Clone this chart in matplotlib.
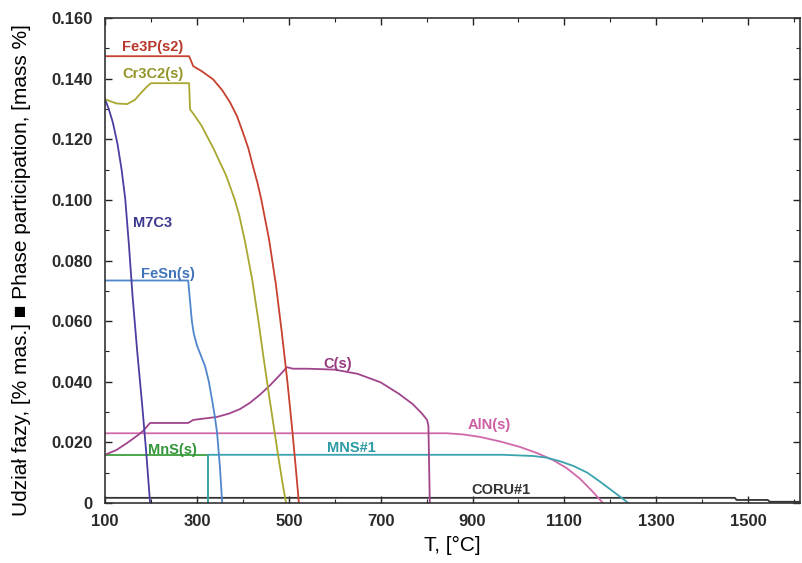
import matplotlib
matplotlib.use("Agg")
import matplotlib.pyplot as plt
from matplotlib.ticker import MultipleLocator, FuncFormatter

plt.rcParams['font.family'] = ['Liberation Sans', 'DejaVu Sans']

# phase fractions vs temperature, mass %
fe3p_t = [100, 283, 292, 310, 335, 355, 372, 387, 400, 412, 422, 432, 440, 457, 472, 485,
          497, 507, 515, 522]
fe3p_y = [0.1474, 0.1474, 0.1441, 0.1425, 0.1398, 0.1362, 0.1322, 0.1277, 0.1223, 0.1170,
          0.1111, 0.1055, 0.1002, 0.0870, 0.0720, 0.0560, 0.0400, 0.0250, 0.0120, 0.0]

cr3c2_t = [100, 125, 148, 165, 176, 190, 200, 283, 285, 296, 310, 322, 336, 350, 362, 372,
           382, 392, 405, 420, 433, 445, 457, 468, 478, 487, 494]
cr3c2_y = [0.1332, 0.1318, 0.1316, 0.1330, 0.1349, 0.1372, 0.1385, 0.1385, 0.1299, 0.1276,
           0.1245, 0.1210, 0.1170, 0.1124, 0.1086, 0.1045, 0.1002, 0.0950, 0.0860, 0.0740,
           0.0610, 0.0480, 0.0355, 0.0245, 0.0145, 0.0060, 0.0]

m7c3_t = [100, 108, 117, 127, 136, 144, 152, 160, 170, 181, 190, 198]
m7c3_y = [0.1332, 0.1300, 0.1255, 0.1185, 0.1100, 0.1002, 0.0850, 0.0680, 0.0500, 0.0320,
          0.0160, 0.0]

fesn_t = [100, 281, 283, 289, 293, 300, 309, 318, 326, 333, 339, 344, 350, 355]
fesn_y = [0.0734, 0.0734, 0.0700, 0.0600, 0.0560, 0.0520, 0.0485, 0.0450, 0.0400, 0.0340,
          0.0285, 0.0230, 0.0120, 0.0]

c_t = [100, 125, 148, 170, 183, 198, 281, 292, 344, 370, 394, 415, 437, 459, 478, 496,
       509, 540, 600, 650, 700, 740, 770, 790, 801, 804, 807]
c_y = [0.0159, 0.0175, 0.0198, 0.0222, 0.0238, 0.0264, 0.0264, 0.0274, 0.0284, 0.0295,
       0.0310, 0.0330, 0.0357, 0.0388, 0.0418, 0.0448, 0.0443, 0.0443, 0.0440, 0.0426,
       0.0398, 0.0360, 0.0326, 0.0295, 0.0274, 0.0255, 0.0]

aln_t = [100, 845, 880, 916, 960, 1003, 1040, 1075, 1105, 1134, 1160, 1184]
aln_y = [0.0230, 0.0230, 0.0226, 0.0218, 0.0203, 0.0185, 0.0165, 0.0142, 0.0115, 0.0080,
         0.0040, 0.0]

mns_s_t = [100, 324, 324]
mns_s_y = [0.0159, 0.0159, 0.0]

mns1_t = [324, 324, 966, 1032, 1060, 1090, 1120, 1150, 1178, 1200, 1222, 1239]
mns1_y = [0.0, 0.0159, 0.0159, 0.0155, 0.0150, 0.0138, 0.0122, 0.0100, 0.0070, 0.0045,
          0.0020, 0.0]

coru_t = [100, 1471, 1475, 1543, 1547, 1613]
coru_y = [0.0017, 0.0017, 0.0010, 0.0010, 0.0004, 0.0004]

series = [
    (coru_t, coru_y, '#333333'),
    (aln_t, aln_y, '#d068ac'),
    (mns_s_t, mns_s_y, '#3ca03c'),
    (mns1_t, mns1_y, '#3aa3ad'),
    (c_t, c_y, '#a0448c'),
    (fesn_t, fesn_y, '#4f86cc'),
    (m7c3_t, m7c3_y, '#4a3fa0'),
    (cr3c2_t, cr3c2_y, '#a8a830'),
    (fe3p_t, fe3p_y, '#c8402e'),
]

# (text, T, y, colour)
labels = [
    ('Fe3P(s2)', 204, 0.1505, '#b8392c'),
    ('Cr3C2(s)', 204, 0.1415, '#949428'),
    ('M7C3', 204, 0.0925, '#3c3890'),
    ('FeSn(s)', 237, 0.0755, '#3f74bb'),
    ('C(s)', 606, 0.0458, '#96397f'),
    ('AlN(s)', 937, 0.0258, '#cc5ea4'),
    ('MNS#1', 636, 0.0180, '#2e9aa4'),
    ('MnS(s)', 246, 0.0175, '#34963a'),
    ('CORU#1', 962, 0.0044, '#333333'),
]

fig = plt.figure(figsize=(8.02, 5.63), dpi=100)
ax = fig.add_axes([0.131, 0.1066, 0.8665, 0.8614])

for t, y, col in series:
    ax.plot(t, y, color=col, lw=1.3, solid_joinstyle='round')

for txt, t, y, col in labels:
    ax.text(t, y, txt, color=col, fontsize=10.5, fontweight='bold',
            ha='center', va='center')

ax.set_xlim(100, 1613)
ax.set_ylim(0, 0.160)

ax.xaxis.set_minor_locator(MultipleLocator(100))
ax.set_xticks(list(range(100, 1601, 200)))
ax.yaxis.set_major_locator(MultipleLocator(0.02))
ax.yaxis.set_minor_locator(MultipleLocator(0.01))
ax.yaxis.set_major_formatter(FuncFormatter(lambda v, p: '0' if abs(v) < 1e-9 else f'{v:.3f}'))

ax.tick_params(which='both', direction='in', top=True, right=True, color='#222222')
ax.tick_params(which='major', length=5, width=1.0)
ax.tick_params(which='minor', length=3, width=0.8)
ax.tick_params(axis='x', pad=8)
ax.tick_params(axis='y', pad=9)
for lab in ax.get_xticklabels() + ax.get_yticklabels():
    lab.set_fontweight('bold')
    lab.set_fontsize(12)
    lab.set_color('#2a2a2a')

for s in ax.spines.values():
    s.set_color('#333333')
    s.set_linewidth(1.2)

ax.set_xlabel('T, [°C]', fontsize=15, labelpad=5)
ax.set_ylabel('Udział fazy, [% mas.] ■ Phase participation, [mass %]', fontsize=15)
ax.yaxis.set_label_coords(-0.106, 0.48)

fig.savefig('out.png', dpi=100)
